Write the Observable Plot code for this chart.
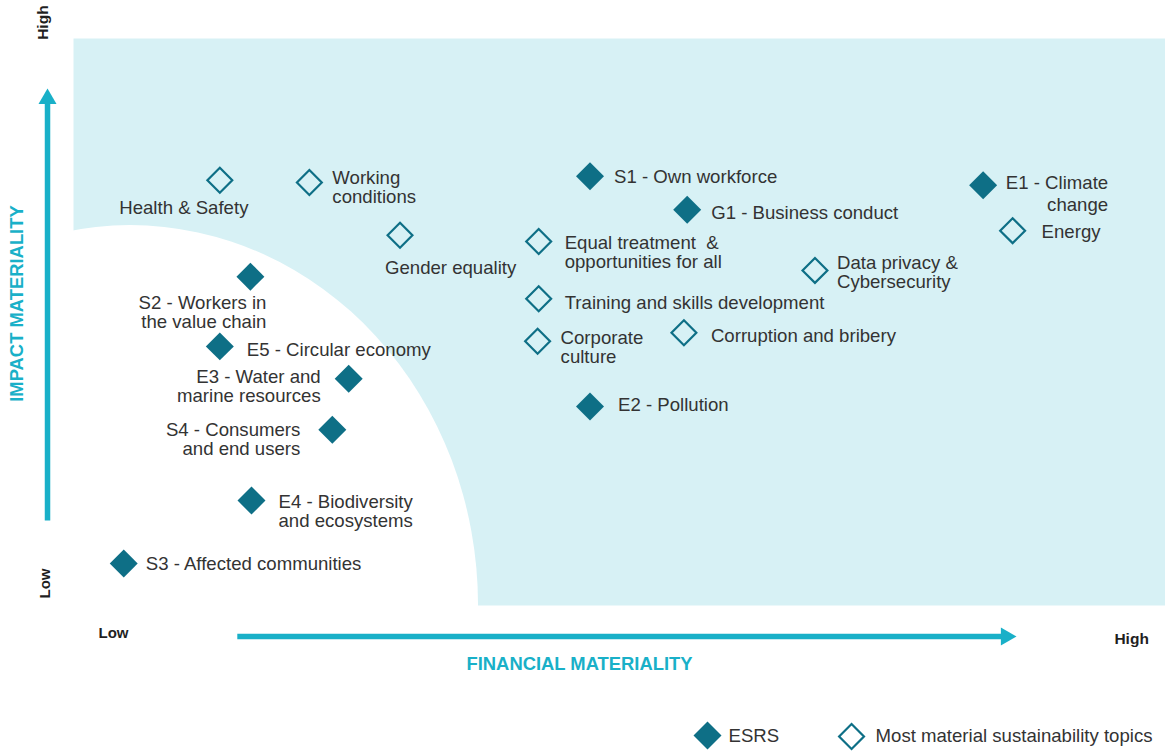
<!DOCTYPE html>
<html><head><meta charset="utf-8">
<script src="https://cdn.jsdelivr.net/npm/d3@7"></script>
<script src="https://cdn.jsdelivr.net/npm/@observablehq/plot@0.6"></script>
<style>body{margin:0;background:#fff;} #chart svg{display:block}</style>
</head><body><div id="chart"></div>
<script>
// ---- data (financial materiality = x, impact materiality = y, 0–100 scale) ----
const topics = ["Health & Safety","Working\nconditions","S1 - Own workforce","E1 - Climate\nchange","G1 - Business conduct","Energy","Gender equality","Equal treatment  &\nopportunities for all","Data privacy &\nCybersecurity","S2 - Workers in\nthe value chain","Training and skills development","Corporate\nculture","Corruption and bribery","E5 - Circular economy","E3 - Water and\nmarine resources","E2 - Pollution","S4 - Consumers\nand end users","E4 - Biodiversity\nand ecosystems","S3 - Affected communities"];
const financial = [13.4,21.6,47.3,83.3,56.2,86.0,29.9,42.6,67.9,16.2,42.6,42.5,55.9,13.4,25.2,47.3,23.7,16.3,4.6];
const impact    = [75.0,74.6,75.7,74.1,69.8,66.1,65.3,64.2,59.1,58.0,54.1,46.6,48.1,45.7,40.0,35.1,31.0,18.5,7.4];
const kind = ["topic","topic","ESRS","ESRS","ESRS","topic","topic","topic","topic","ESRS","topic","topic","topic","ESRS","ESRS","ESRS","ESRS","ESRS","ESRS"];
const legendLabels = ["ESRS","Most material sustainability topics"];
const axisTitles = ["FINANCIAL MATERIALITY","IMPACT MATERIALITY"];
const tickLabels = ["Low","High"];

// ---- layout (label offsets in px) ----
const labelDx = [-36,23,24,125,24,29,-15,26,22,16,26,23,27,27,-28,28,-32,27,22];
const labelDy = [28,4.5,1,8,3,1,33,11,2.5,35.5,4,6,3,4,7.5,-2,10,10.5,0];
const labelAnchor = ["middle","start","start","end","start","start","start","start","start","end","start","start","start","start","end","start","end","start","start"];

const teal = "#0e6f86", cyan = "#19b0c8", bg = "#d7f1f5", ink = "#333333", dark = "#1f1f1f";
const font = "Liberation Sans, Arial, Helvetica, sans-serif";
const labelSize = 18.6;

const data = topics.map((t, i) => ({topic: t, fin: financial[i], imp: impact[i], kind: kind[i], i}));

// background quarter ellipse (low/low zone), in data units
const zone = {cx: 5.22, cy: 0, rx: 31.87, ry: 67.0};

const labelMarks = data.map(d => Plot.text([d], {
  x: "fin", y: "imp", text: "topic",
  dx: labelDx[d.i], dy: labelDy[d.i], textAnchor: labelAnchor[d.i],
  fontSize: labelSize, lineHeight: d.i === 3 ? 1.17 : 1.02, fill: ink
}));

const chart = Plot.plot({
  width: 1165, height: 751,
  marginLeft: 73, marginRight: 0, marginTop: 38, marginBottom: 146,
  x: {domain: [0, 100], axis: null},
  y: {domain: [0, 100], axis: null},
  style: {fontFamily: font, background: "white", overflow: "visible"},
  marks: [
    Plot.frame({fill: bg, stroke: "none"}),
    (index, scales) => {
      const cx = scales.x(zone.cx), cy = scales.y(zone.cy);
      const rx = scales.x(zone.cx + zone.rx) - cx, ry = cy - scales.y(zone.ry);
      return d3.create("svg:ellipse").attr("cx", cx).attr("cy", cy)
        .attr("rx", rx).attr("ry", ry).attr("fill", "white").node();
    },
    // axis arrows
    Plot.link([{x1: -2.38, y1: 15.0, x2: -2.38, y2: 89.0}, {x1: 15.0, y1: -5.47, x2: 85.0, y2: -5.47}],
      {x1: "x1", y1: "y1", x2: "x2", y2: "y2", stroke: cyan, strokeWidth: 5.5}),
    Plot.dot([{x: -2.38, y: 89.35}], {x: "x", y: "y", symbol: "triangle", r: 6.7, fill: cyan, stroke: "none"}),
    Plot.dot([{x: 85.4, y: -5.47}], {x: "x", y: "y", symbol: "triangle", r: 6.7, fill: cyan, stroke: "none", rotate: 90}),
    // tick labels
    Plot.text([tickLabels[0]], {x: 3.66, y: -4.94, text: d => d, fontSize: 15, fontWeight: "bold", fill: dark}),
    Plot.text([tickLabels[1]], {x: 96.9, y: -6.0, text: d => d, fontSize: 15.5, fontWeight: "bold", fill: dark}),
    Plot.text([tickLabels[1]], {x: -2.75, y: 102.8, text: d => d, fontSize: 15.5, fontWeight: "bold", fill: dark, rotate: -90}),
    Plot.text([tickLabels[0]], {x: -2.56, y: 3.88, text: d => d, fontSize: 15, fontWeight: "bold", fill: dark, rotate: -90}),
    // axis titles
    Plot.text([axisTitles[0]], {x: 46.34, y: -10.4, text: d => d, fontSize: 18.4, fontWeight: "bold", fill: cyan}),
    Plot.text([axisTitles[1]], {x: -5.13, y: 53.26, text: d => d, fontSize: 18.4, fontWeight: "bold", fill: cyan, rotate: -90}),
    // points
    Plot.dot(data.filter(d => d.kind === "topic"), {x: "fin", y: "imp", symbol: "diamond2", r: 11.2, fill: "none", stroke: teal, strokeWidth: 2.2}),
    Plot.dot(data.filter(d => d.kind === "ESRS"), {x: "fin", y: "imp", symbol: "diamond2", r: 12.6, fill: teal, stroke: "none"}),
    ...labelMarks,
    // legend
    Plot.dot([legendLabels[0]], {x: 58.06, y: -22.93, symbol: "diamond2", r: 12.6, fill: teal, stroke: "none"}),
    Plot.text([legendLabels[0]], {x: 58.06, y: -23.1, dx: 21, text: d => d, textAnchor: "start", fontSize: labelSize, fill: ink}),
    Plot.dot([legendLabels[1]], {x: 71.25, y: -23.1, symbol: "diamond2", r: 11.2, fill: "none", stroke: teal, strokeWidth: 2.2}),
    Plot.text([legendLabels[1]], {x: 71.25, y: -23.1, dx: 24, text: d => d, textAnchor: "start", fontSize: labelSize, fill: ink})
  ]
});
document.getElementById("chart").append(chart);
</script>
</body></html>
